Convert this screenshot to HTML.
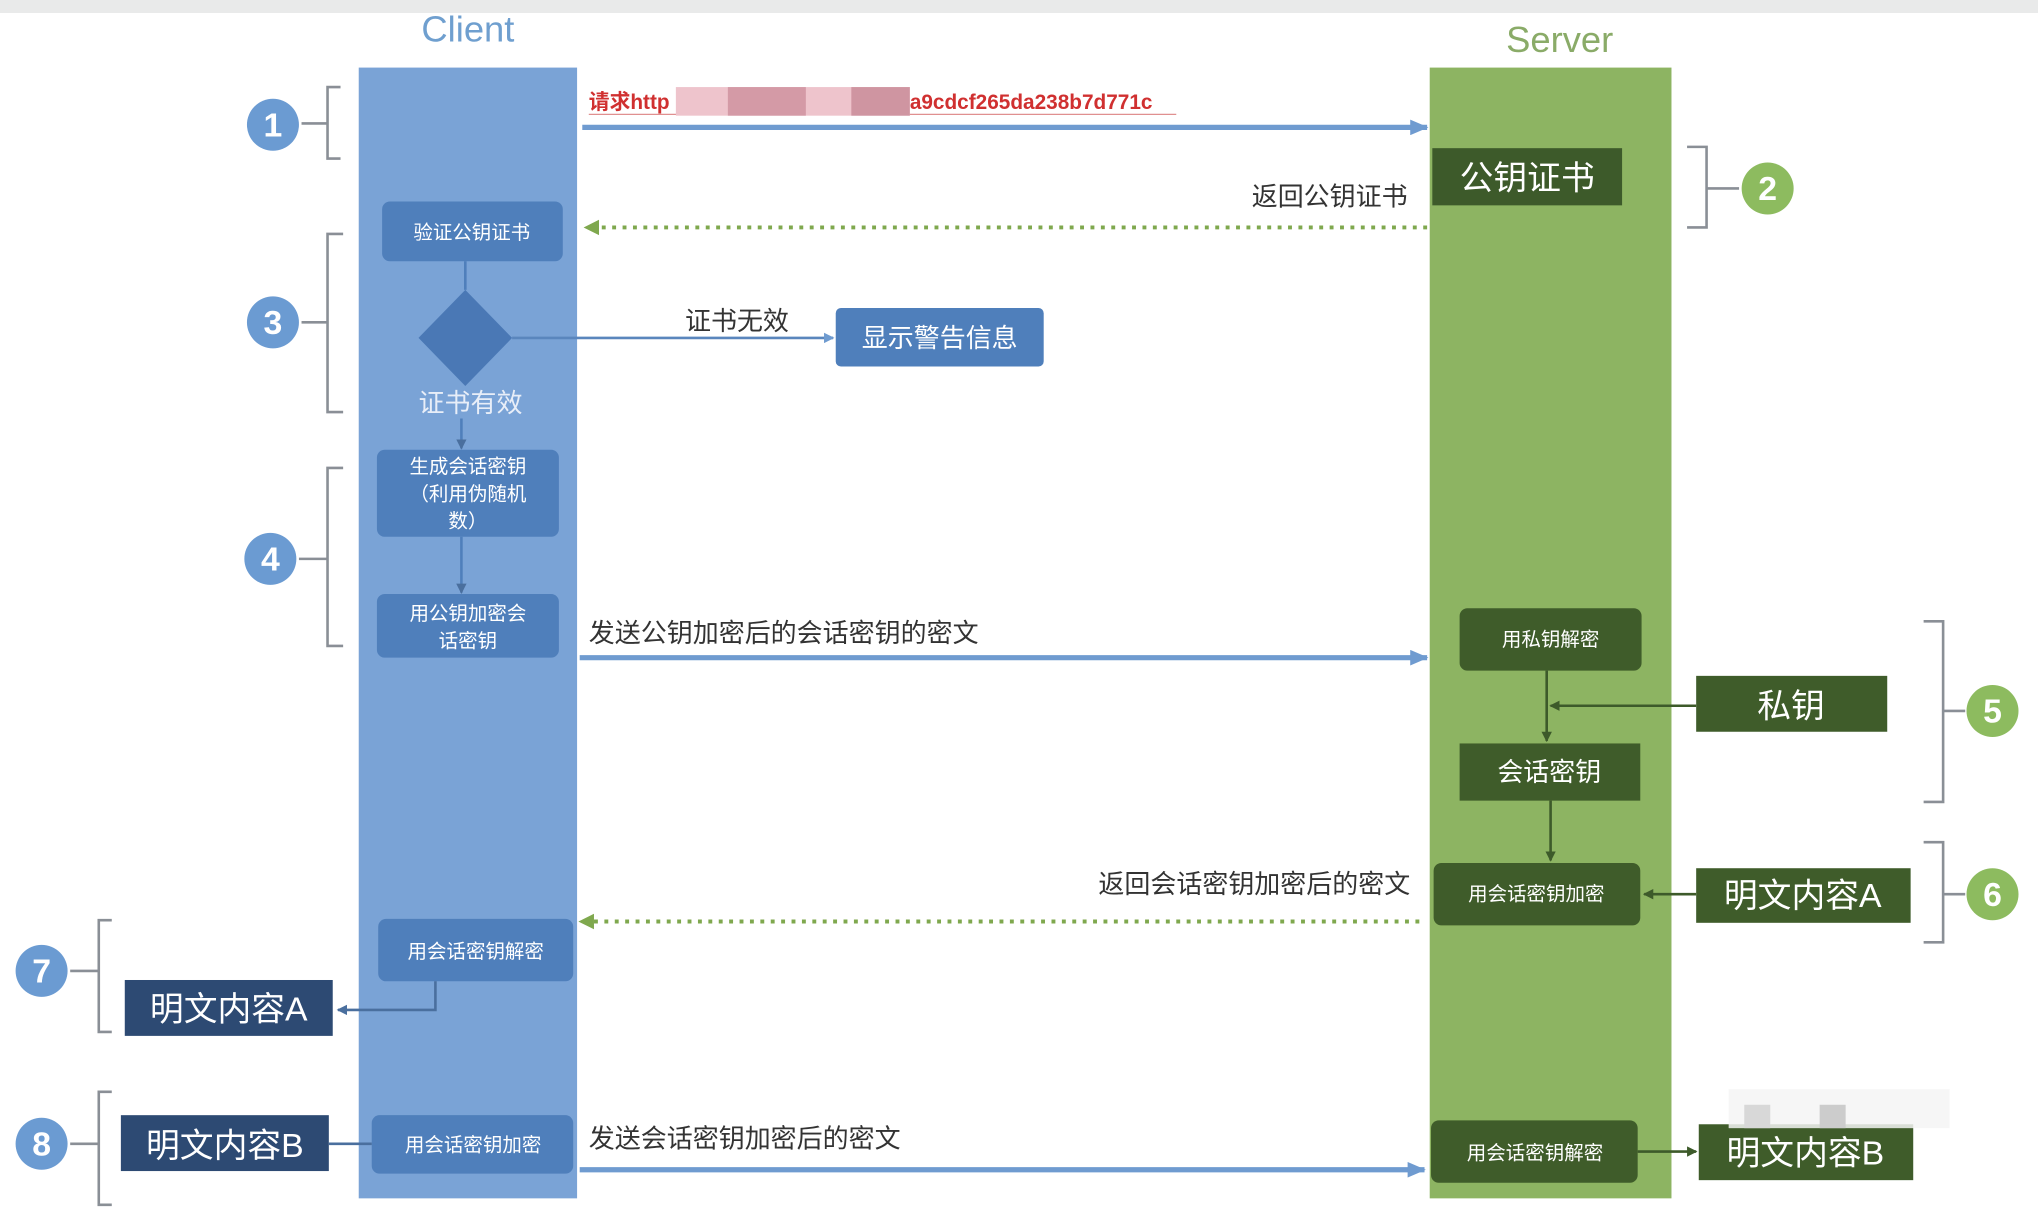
<!DOCTYPE html>
<html><head><meta charset="utf-8"><style>
html,body{margin:0;padding:0;background:#fff;}
svg{display:block}
text{font-family:"Liberation Sans","Noto Sans CJK SC",sans-serif;}
</style></head><body>
<svg width="2038" height="1212" viewBox="0 0 1568 932.5" preserveAspectRatio="none" xmlns="http://www.w3.org/2000/svg">
<defs>
<marker id="ab" markerWidth="8" markerHeight="8" refX="7" refY="4" orient="auto" markerUnits="userSpaceOnUse"><path d="M0,0 L8,4 L0,8 z" fill="#6f9bd0"/></marker>
<marker id="ab2" markerWidth="14" markerHeight="12" refX="13" refY="6" orient="auto" markerUnits="userSpaceOnUse"><path d="M0,0 L14,6 L0,12 z" fill="#6f9bd0"/></marker>
<marker id="ag" markerWidth="12" markerHeight="12" refX="11" refY="6" orient="auto" markerUnits="userSpaceOnUse"><path d="M0,0 L12,6 L0,12 z" fill="#7fa84e"/></marker>
<marker id="adg" markerWidth="8" markerHeight="8" refX="7" refY="4" orient="auto" markerUnits="userSpaceOnUse"><path d="M0,0 L8,4 L0,8 z" fill="#3d5a2a"/></marker>
<marker id="an" markerWidth="8" markerHeight="8" refX="7" refY="4" orient="auto" markerUnits="userSpaceOnUse"><path d="M0,0 L8,4 L0,8 z" fill="#4a6f9e"/></marker>
</defs>
<rect x="0" y="0" width="1568" height="10" fill="#e9eaea"/>
<text x="360" y="32" font-size="28" fill="#6f9fcf" text-anchor="middle">Client</text>
<text x="1200" y="40" font-size="28" fill="#8aab68" text-anchor="middle">Server</text>
<rect x="276" y="52" width="168" height="870" fill="#7aa3d6"/>
<rect x="1100" y="52" width="186" height="870" fill="#8db462"/>

<!-- brackets -->
<g fill="none" stroke="#8a8f96" stroke-width="2">
<path d="M262,67 H252 V122 H262 M252,95 H232"/>
<path d="M264,180 H252 V317 H264 M252,248 H232"/>
<path d="M264,360 H252 V497 H264 M252,430 H230"/>
<path d="M86,708 H76 V794 H86 M76,747 H54"/>
<path d="M86,840 H76 V927 H86 M76,880 H54"/>
<path d="M1298,113 H1313 V175 H1298 M1313,145 H1338"/>
<path d="M1480,478 H1495 V617 H1480 M1495,547 H1512"/>
<path d="M1480,648 H1495 V725 H1480 M1495,688 H1512"/>
</g>
<g font-size="26" fill="#fff" text-anchor="middle" font-weight="bold">
<circle cx="210" cy="96" r="20" fill="#6b9bd2"/><text x="210" y="105">1</text>
<circle cx="210" cy="248" r="20" fill="#6b9bd2"/><text x="210" y="257">3</text>
<circle cx="208" cy="430" r="20" fill="#6b9bd2"/><text x="208" y="439">4</text>
<circle cx="32" cy="747" r="20" fill="#6b9bd2"/><text x="32" y="756">7</text>
<circle cx="32" cy="880" r="20" fill="#6b9bd2"/><text x="32" y="889">8</text>
<circle cx="1360" cy="145" r="20" fill="#8dbb5f"/><text x="1360" y="154">2</text>
<circle cx="1533" cy="547" r="20" fill="#8dbb5f"/><text x="1533" y="556">5</text>
<circle cx="1533" cy="688" r="20" fill="#8dbb5f"/><text x="1533" y="697">6</text>
</g>

<!-- request -->
<text x="453" y="84" font-size="16" fill="#d03030" font-weight="bold">请求http</text>
<text x="700" y="84" font-size="16" fill="#d03030" font-weight="bold">a9cdcf265da238b7d771c</text>
<line x1="453" y1="88" x2="905" y2="88" stroke="#e09090" stroke-width="1"/>
<rect x="520" y="67" width="180" height="22" fill="#eec4cc"/>
<rect x="560" y="67" width="60" height="22" fill="#d49aa6"/>
<rect x="655" y="67" width="45" height="22" fill="#cf95a1"/>
<line x1="448" y1="98" x2="1098" y2="98" stroke="#6f9bd0" stroke-width="4" marker-end="url(#ab2)"/>

<!-- cert -->
<rect x="1102" y="114" width="146" height="44" fill="#3d5a2a"/>
<text x="1175" y="146" font-size="26" fill="#fff" text-anchor="middle">公钥证书</text>
<text x="1083" y="158" font-size="20" fill="#333" text-anchor="end">返回公钥证书</text>
<line x1="1098" y1="175" x2="450" y2="175" stroke="#7fa84e" stroke-width="3" stroke-dasharray="3,5" marker-end="url(#ag)"/>

<!-- client steps -->
<g fill="#4f7fbb">
<rect x="294" y="155" width="139" height="46" rx="6"/>
<path d="M358,223 L394,260 L358,297 L322,260 z" fill="#4a78b5"/>
<rect x="643" y="237" width="160" height="45" rx="4"/>
<rect x="290" y="346" width="140" height="67" rx="6"/>
<rect x="290" y="457" width="140" height="49" rx="6"/>
<rect x="291" y="707" width="150" height="48" rx="6"/>
<rect x="286" y="858" width="155" height="45" rx="6"/>
</g>
<g fill="#fff" text-anchor="middle">
<text x="363" y="184" font-size="15">验证公钥证书</text>
<text x="723" y="267" font-size="20">显示警告信息</text>
<text x="362" y="317" font-size="20" fill="#e8eef8">证书有效</text>
<text x="360" y="364" font-size="15">生成会话密钥</text>
<text x="360" y="385" font-size="15">（利用伪随机</text>
<text x="360" y="406" font-size="15">数）</text>
<text x="360" y="477" font-size="15">用公钥加密会</text>
<text x="360" y="498" font-size="15">话密钥</text>
<text x="366" y="737" font-size="15">用会话密钥解密</text>
<text x="364" y="886" font-size="15">用会话密钥加密</text>
</g>
<line x1="394" y1="260" x2="641" y2="260" stroke="#5a86bd" stroke-width="2" marker-end="url(#ab)"/>
<text x="567" y="254" font-size="20" fill="#333" text-anchor="middle">证书无效</text>
<line x1="358" y1="201" x2="358" y2="223" stroke="#4f7fbb" stroke-width="2"/>
<line x1="355" y1="322" x2="355" y2="345" stroke="#4f7fbb" stroke-width="2" marker-end="url(#an)"/>
<line x1="355" y1="413" x2="355" y2="456" stroke="#4f7fbb" stroke-width="2" marker-end="url(#an)"/>

<text x="453" y="494" font-size="20" fill="#333">发送公钥加密后的会话密钥的密文</text>
<line x1="446" y1="506" x2="1098" y2="506" stroke="#6f9bd0" stroke-width="4" marker-end="url(#ab2)"/>

<!-- server steps -->
<g fill="#3f5c2a">
<rect x="1123" y="468" width="140" height="48" rx="6"/>
<rect x="1305" y="520" width="147" height="43"/>
<rect x="1123" y="572" width="139" height="44"/>
<rect x="1103" y="664" width="159" height="48" rx="6"/>
<rect x="1305" y="668" width="165" height="42"/>
<rect x="1101" y="862" width="159" height="48" rx="6"/>
<rect x="1307" y="865" width="165" height="43"/>
</g>
<g fill="#fff" text-anchor="middle">
<text x="1193" y="497" font-size="15">用私钥解密</text>
<text x="1378" y="552" font-size="26">私钥</text>
<text x="1192" y="601" font-size="20">会话密钥</text>
<text x="1182" y="693" font-size="15">用会话密钥加密</text>
<text x="1387" y="698" font-size="26">明文内容A</text>
<text x="1181" y="892" font-size="15">用会话密钥解密</text>
<text x="1389" y="896" font-size="26">明文内容B</text>
</g>
<g stroke="#3d5a2a" stroke-width="2" fill="none">
<line x1="1190" y1="516" x2="1190" y2="570" marker-end="url(#adg)"/>
<line x1="1305" y1="543" x2="1193" y2="543" marker-end="url(#adg)"/>
<line x1="1193" y1="616" x2="1193" y2="662" marker-end="url(#adg)"/>
<line x1="1305" y1="688" x2="1265" y2="688" marker-end="url(#adg)"/>
<line x1="1260" y1="886" x2="1305" y2="886" marker-end="url(#adg)"/>
</g>
<rect x="1330" y="838" width="170" height="30" fill="#f4f4f4" opacity="0.85"/>
<rect x="1342" y="850" width="20" height="18" fill="#d8d8d8"/>
<rect x="1400" y="850" width="20" height="18" fill="#cccccc"/>

<text x="1085" y="687" font-size="20" fill="#333" text-anchor="end">返回会话密钥加密后的密文</text>
<line x1="1092" y1="709" x2="446" y2="709" stroke="#7fa84e" stroke-width="3" stroke-dasharray="3,5" marker-end="url(#ag)"/>

<!-- client outputs -->
<rect x="96" y="754" width="160" height="43" fill="#2d4a73"/>
<text x="176" y="785" font-size="26" fill="#fff" text-anchor="middle">明文内容A</text>
<path d="M335,755 V777 H260" stroke="#4a6f9e" stroke-width="2" fill="none" marker-end="url(#an)"/>
<rect x="93" y="858" width="160" height="43" fill="#2d4a73"/>
<text x="173" y="890" font-size="26" fill="#fff" text-anchor="middle">明文内容B</text>
<line x1="286" y1="880" x2="253" y2="880" stroke="#4a6f9e" stroke-width="2"/>

<text x="453" y="883" font-size="20" fill="#333">发送会话密钥加密后的密文</text>
<line x1="446" y1="900" x2="1096" y2="900" stroke="#6f9bd0" stroke-width="4" marker-end="url(#ab2)"/>
</svg>
</body></html>
